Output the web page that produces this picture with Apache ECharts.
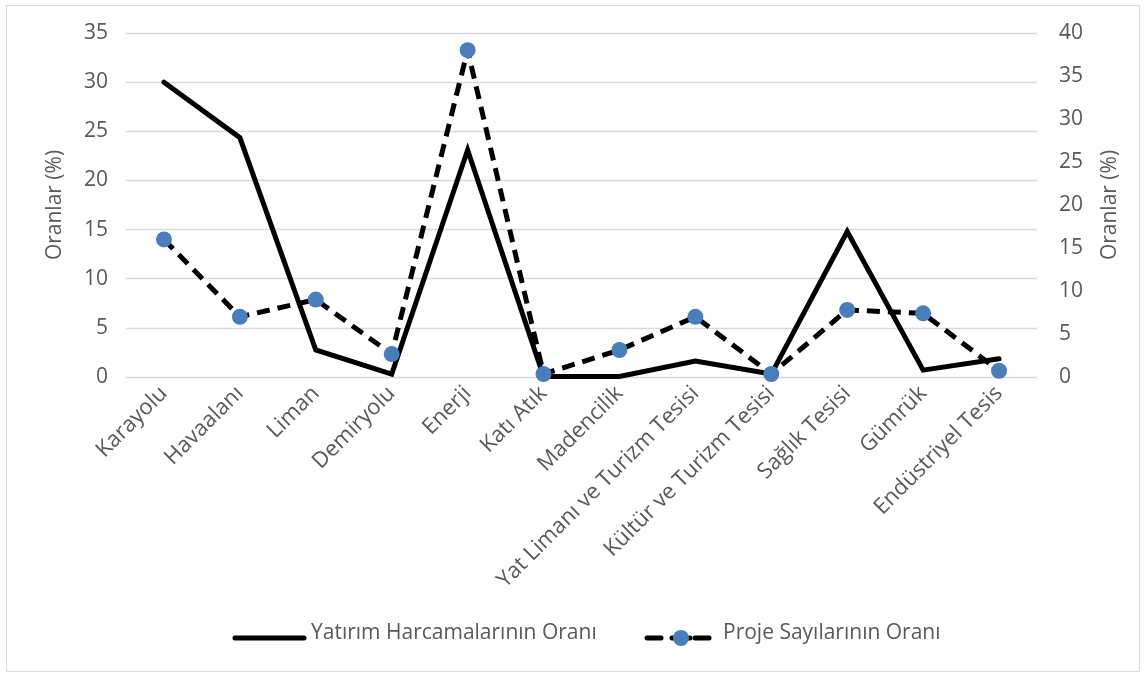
<!DOCTYPE html>
<html><head><meta charset="utf-8">
<script src="https://cdn.jsdelivr.net/npm/echarts@6/dist/echarts.min.js"></script>
<style>html,body{margin:0;padding:0;background:#fff}#wrap{position:absolute;left:6px;top:5px;width:1134px;height:667px;border:1px solid #d9d9d9;box-sizing:border-box}#c{position:absolute;left:0;top:0;width:1148px;height:678px}</style>
</head><body><div id="wrap"></div><div id="c"></div>
<script>
const categories = ['Karayolu','Havaalanı','Liman','Demiryolu','Enerji','Katı Atık','Madencilik','Yat Limanı ve Turizm Tesisi','Kültür ve Turizm Tesisi','Sağlık Tesisi','Gümrük','Endüstriyel Tesis'];
const yatirim = [30.0, 24.35, 2.75, 0.3, 23.1, 0.05, 0.05, 1.63, 0.3, 14.8, 0.7, 1.85];
const proje = [16.0, 7.0, 9.0, 2.67, 38.0, 0.35, 3.14, 7.0, 0.35, 7.8, 7.4, 0.73];
const leftTicks = {min:0, max:35, interval:5};
const rightTicks = {min:0, max:40, interval:5};
const names = ['Yatırım Harcamalarının Oranı','Proje Sayılarının Oranı'];
const FONT = 'Open Sans';
const GREY = '#595959';
const BLUE = '#4a7ebb';
const chart = echarts.init(document.getElementById('c'));
chart.setOption({
  animation:false,
  textStyle:{fontFamily:FONT},
  grid:{left:126,right:111,top:33,bottom:301,containLabel:false},
  xAxis:{type:'category',data:categories,boundaryGap:true,
    axisLine:{show:false},axisTick:{show:false},
    axisLabel:{rotate:45,color:GREY,fontSize:22,fontFamily:FONT,margin:13,interval:0}},
  yAxis:[
    {type:'value',min:leftTicks.min,max:leftTicks.max,interval:leftTicks.interval,
     name:'Oranlar (%)',nameLocation:'middle',nameGap:60,nameRotate:90,
     nameTextStyle:{color:GREY,fontSize:21,fontFamily:FONT},
     axisLabel:{color:GREY,fontSize:21,fontFamily:FONT,margin:18},
     splitLine:{lineStyle:{color:'#d9d9d9',width:1.3}},axisLine:{show:false},axisTick:{show:false}},
    {type:'value',min:rightTicks.min,max:rightTicks.max,interval:rightTicks.interval,
     name:'Oranlar (%)',nameLocation:'middle',nameGap:63,nameRotate:90,
     nameTextStyle:{color:GREY,fontSize:21,fontFamily:FONT},
     axisLabel:{color:GREY,fontSize:21,fontFamily:FONT,margin:22},
     splitLine:{show:false},axisLine:{show:false},axisTick:{show:false}}
  ],
  graphic:[
    {type:'line',shape:{x1:235,y1:638,x2:304,y2:638},style:{stroke:'#000',lineWidth:5,lineCap:'round'}},
    {type:'text',left:311,top:638-15,style:{text:names[0],fill:GREY,font:'21px "Open Sans"'}},
    {type:'line',shape:{x1:647,y1:638,x2:661,y2:638},style:{stroke:'#000',lineWidth:5,lineCap:'round'}},
    {type:'line',shape:{x1:672,y1:638,x2:690,y2:638},style:{stroke:'#000',lineWidth:5,lineCap:'round'}},
    {type:'line',shape:{x1:695,y1:638,x2:709,y2:638},style:{stroke:'#000',lineWidth:5,lineCap:'round'}},
    {type:'circle',shape:{cx:681,cy:638,r:8},style:{fill:BLUE}},
    {type:'text',left:723,top:638-15,style:{text:names[1],fill:GREY,font:'21px "Open Sans"'}}
  ],
  series:[
    {name:names[0],type:'line',yAxisIndex:0,data:yatirim,symbol:'none',
     lineStyle:{color:'#000',width:5,cap:'round',join:'miter'},itemStyle:{color:'#000'}},
    {name:names[1],type:'line',yAxisIndex:1,data:proje,symbol:'circle',symbolSize:16,
     lineStyle:{color:'#000',width:5,type:[13,8]},itemStyle:{color:BLUE}}
  ]
});
</script></body></html>
